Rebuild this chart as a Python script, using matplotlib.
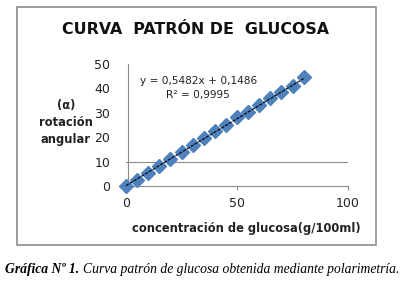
import matplotlib

matplotlib.use("Agg")

import matplotlib.pyplot as plt
from matplotlib.patches import Rectangle
import numpy as np

# Concentration (g/100ml) and measured angular rotation.
concentration = [0, 5, 10, 15, 20, 25, 30, 35, 40, 45, 50, 55, 60, 65, 70, 75, 80]
rotation = [0.0, 2.6, 5.5, 8.4, 11.0, 14.0, 16.6, 19.5, 22.4, 25.0, 28.4, 30.2,
            33.0, 36.0, 38.4, 41.0, 44.6]

x_ticks = [0, 50, 100]
y_ticks = [0, 10, 20, 30, 40, 50]

slope = 0.5482
intercept = 0.1486

fig = plt.figure(figsize=(4.06, 2.87), dpi=100)

# Outer chart frame.
fig.patches.append(
    Rectangle((17 / 406, 1 - 245 / 287), 359 / 406, 238 / 287,
              transform=fig.transFigure, fill=False,
              edgecolor="#8c8c8c", linewidth=1.2)
)

ax = fig.add_axes([126 / 406, 1 - 186 / 287, 222 / 406, 122 / 287])
ax.set_xlim(0, 100)
ax.set_ylim(0, 50)

ax.axhline(10, color="#8c8c8c", linewidth=0.8, zorder=1)

ax.plot(concentration, rotation, linestyle="none", marker="D",
        markersize=7, color="#4f81bd", clip_on=False, zorder=3)

fit_x = np.array([concentration[0], concentration[-1]])
ax.plot(fit_x, slope * fit_x + intercept, color="black", linewidth=0.8,
        linestyle=(0, (3, 1)), zorder=4, clip_on=False)

for side in ["top", "right"]:
    ax.spines[side].set_visible(False)
ax.spines["left"].set_color("#8c8c8c")
ax.spines["bottom"].set_color("#8c8c8c")
ax.spines["left"].set_position(("data", 1))

ax.set_xticks(x_ticks)
ax.set_yticks(y_ticks)
ax.tick_params(axis="both", labelsize=9, length=3, color="#8c8c8c",
               labelcolor="#222222")
ax.tick_params(axis="y", length=0, pad=13)
ax.tick_params(axis="x", pad=5)

ax.set_xlabel("concentración de glucosa(g/100ml)", fontsize=8.3,
              fontweight="bold", color="#222222")
ax.xaxis.set_label_coords(0.54, -0.345)
ax.xaxis.label.set_va("center")

fig.text(66 / 406, 1 - 123 / 287, "(α)\nrotación\nangular", ha="center",
         va="center", fontsize=8.3, fontweight="bold", color="#222222",
         linespacing=1.4)

fig.text(196 / 406, 1 - 30 / 287, "CURVA  PATRÓN DE  GLUCOSA", ha="center",
         va="center", fontsize=11.4, fontweight="bold", color="#111111")

ax.text(32.5, 42.9, "y = 0,5482x + 0,1486", fontsize=7.6, ha="center",
        va="center", color="#222222")
ax.text(32.5, 37.2, "R² = 0,9995", fontsize=7.6, ha="center", va="center",
        color="#222222")

fig.text(5 / 406, 1 - 269 / 287, "Gráfica Nº 1.", ha="left", va="center",
         fontsize=9.8, family="Liberation Serif", style="italic",
         fontweight="bold")
fig.text(83 / 406, 1 - 269 / 287,
         "Curva patrón de glucosa obtenida mediante polarimetría.",
         ha="left", va="center", fontsize=9.8, family="Liberation Serif",
         style="italic")

fig.savefig("out.png", dpi=100)
